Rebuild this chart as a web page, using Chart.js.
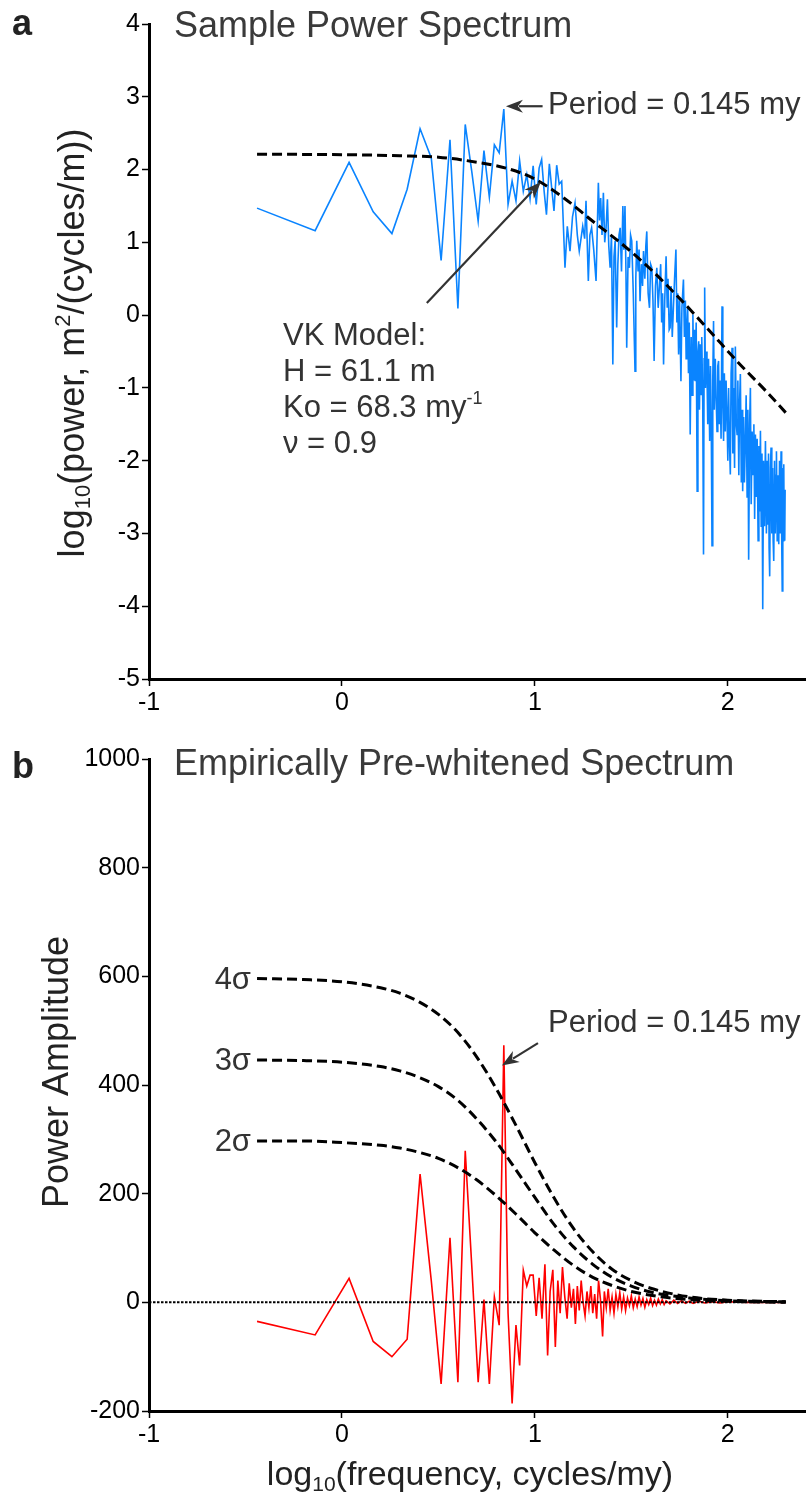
<!DOCTYPE html>
<html>
<head>
<meta charset="utf-8">
<script src="https://cdn.jsdelivr.net/npm/chart.js@4.4.1/dist/chart.umd.min.js"></script>
<style>
  html, body { margin: 0; padding: 0; background: #fff; }
  canvas { display: block; }
</style>
</head>
<body>
<canvas id="topChart" width="806" height="740"></canvas>
<canvas id="bottomChart" width="806" height="758"></canvas>
<script>
// ---- panel a: sample power spectrum (log10 frequency vs log10 power)
const specX = [
  -0.44, -0.139, 0.037, 0.162, 0.259, 0.338, 0.405, 0.463, 0.514, 0.56, 0.601, 0.639, 0.674, 0.706, 0.736, 0.764,
  0.79, 0.815, 0.839, 0.861, 0.882, 0.902, 0.921, 0.94, 0.958, 0.975, 0.991, 1.007, 1.022, 1.035, 1.048, 1.06,
  1.075, 1.087, 1.099, 1.113, 1.126, 1.139, 1.156, 1.168, 1.182, 1.195, 1.208, 1.22, 1.23, 1.248, 1.258, 1.265,
  1.277, 1.285, 1.294, 1.305, 1.317, 1.329, 1.335, 1.341, 1.348, 1.355, 1.362, 1.369, 1.376, 1.383, 1.39, 1.397,
  1.404, 1.41, 1.416, 1.424, 1.43, 1.436, 1.442, 1.449, 1.456, 1.461, 1.467, 1.472, 1.476, 1.483, 1.49, 1.496,
  1.502, 1.51, 1.519, 1.523, 1.528, 1.535, 1.54, 1.545, 1.552, 1.558, 1.563, 1.57, 1.575, 1.58, 1.587, 1.594,
  1.6, 1.606, 1.612, 1.618, 1.625, 1.632, 1.639, 1.646, 1.652, 1.657, 1.662, 1.667, 1.673, 1.68, 1.686, 1.69,
  1.696, 1.701, 1.706, 1.712, 1.718, 1.724, 1.731, 1.736, 1.74, 1.745, 1.75, 1.757, 1.762, 1.77, 1.775, 1.78,
  1.784, 1.788, 1.792, 1.796, 1.8, 1.805, 1.81, 1.815, 1.819, 1.823, 1.827, 1.831, 1.836, 1.841, 1.845, 1.849,
  1.853, 1.857, 1.861, 1.865, 1.87, 1.874, 1.877, 1.88, 1.884, 1.888, 1.892, 1.896, 1.9, 1.906, 1.91, 1.914,
  1.918, 1.922, 1.926, 1.93, 1.935, 1.94, 1.944, 1.948, 1.952, 1.956, 1.96, 1.965, 1.97, 1.974, 1.978, 1.982,
  1.987, 1.991, 1.996, 2.0, 2.004, 2.008, 2.013, 2.017, 2.022, 2.026, 2.03, 2.035, 2.039, 2.044, 2.048, 2.052,
  2.057, 2.061, 2.065, 2.07, 2.074, 2.077, 2.082, 2.086, 2.091, 2.095, 2.1, 2.104, 2.108, 2.113, 2.117, 2.121,
  2.126, 2.131, 2.135, 2.139, 2.143, 2.148, 2.152, 2.157, 2.161, 2.165, 2.169, 2.173, 2.177, 2.181, 2.185, 2.19,
  2.195, 2.2, 2.204, 2.207, 2.211, 2.214, 2.217, 2.221, 2.224, 2.228, 2.232, 2.235, 2.238, 2.242, 2.246, 2.25,
  2.252, 2.256, 2.26, 2.264, 2.268, 2.272, 2.276, 2.279, 2.282, 2.285, 2.288, 2.29, 2.292, 2.295, 2.297
];
const specPower = [
  1.47, 1.16, 2.10, 1.42, 1.12, 1.73, 2.56, 2.16, 0.75, 2.41, 0.09, 2.62, 1.95, 1.29, 2.26, 1.62,
  2.34, 2.23, 2.83, 1.52, 1.84, 1.57, 2.12, 1.70, 1.93, 1.60, 2.05, 1.52, 2.02, 2.14, 1.70, 1.38,
  2.08, 1.75, 1.43, 2.06, 1.80, 1.84, 0.65, 1.22, 0.88, 1.35, 1.54, 1.10, 0.88, 1.22, 1.05, 1.57,
  0.47, 1.10, 1.20, 0.90, 0.47, 1.82, 1.30, 1.61, 1.10, 1.68, 1.00, 1.20, 1.59, 0.95, 0.65, 1.10,
  -0.68, 0.80, 1.02, -0.17, 0.70, 1.10, 1.20, 0.60, 1.50, 0.90, 1.50, 0.60, -0.45, 0.80, 0.65, 1.10,
  1.02, 0.30, -0.77, 0.50, 1.02, 0.60, 0.90, 0.19, 0.70, 0.40, 0.88, 0.50, 0.95, 1.15, 0.30, 0.10,
  0.70, 0.65, 0.20, -0.63, 0.40, 0.65, 0.10, 0.42, 0.70, -0.10, 0.30, -0.68, 0.20, 0.81, 0.10, 0.50,
  -0.20, -0.17, 0.40, -0.30, 0.10, 0.50, 0.90, -0.10, 0.30, -0.54, 0.20, -0.91, 0.10, 0.49, -0.30, 0.20,
  -0.60, -0.17, 0.10, -0.80, -0.10, -1.64, -0.30, -1.10, 0.01, -0.90, -0.20, -0.91, -0.10, -2.42, -0.50, -0.36,
  -1.30, -0.40, -1.09, -0.30, -1.20, -3.29, -0.60, 0.38, -1.00, -0.50, -0.81, -1.50, -0.60, -1.73, -0.70, -1.40,
  -3.17, -0.90, -0.08, -1.30, -0.60, -1.18, -1.60, -0.70, -0.63, -1.50, -0.90, -1.70, 0.12, -1.20, -1.73, -0.80,
  -1.60, -0.90, -1.41, -2.00, -1.00, -1.70, -2.19, -0.80, -0.45, -1.90, -1.00, -2.10, -0.43, -1.50, -1.64, -0.90,
  -2.20, -1.20, -0.81, -2.30, -1.30, -2.42, -1.40, -2.30, -1.73, -1.10, -2.50, -1.30, -3.36, -1.50, -1.00, -2.60,
  -1.60, -2.19, -1.50, -2.80, -1.64, -2.50, -1.70, -3.10, -1.80, -2.70, -1.59, -2.90, -1.90, -4.04, -2.00, -2.90,
  -1.73, -3.00, -2.00, -2.88, -1.90, -3.20, -3.59, -2.10, -1.82, -3.00, -2.10, -3.10, -3.38, -2.00, -3.00, -2.20,
  -1.87, -3.10, -2.20, -3.15, -2.00, -3.00, -1.87, -3.00, -3.79, -2.10, -3.10, -2.05, -3.00, -3.10, -2.40
];
// von Karman model fit
const vkX = [-0.44, 0, 0.3, 0.5, 0.7, 0.85, 1.0, 1.15, 1.3, 1.45, 1.6, 1.75, 1.9, 2.05, 2.2, 2.3];
const vkPower = [2.21, 2.205, 2.19, 2.17, 2.10, 2.02, 1.87, 1.61, 1.29, 0.98, 0.63, 0.23, -0.2, -0.64, -1.05, -1.34];

// ---- panel b: empirically pre-whitened spectrum
const whiteX = [
  -0.44, -0.139, 0.037, 0.162, 0.259, 0.338, 0.405, 0.463, 0.514, 0.56, 0.601, 0.639, 0.674, 0.706, 0.736, 0.764,
  0.79, 0.815, 0.839, 0.861, 0.882, 0.902, 0.921, 0.94, 0.958, 0.975, 0.991, 1.007, 1.022, 1.037, 1.052, 1.066,
  1.079, 1.093, 1.106, 1.119, 1.131, 1.143, 1.155, 1.167, 1.178, 1.189, 1.2, 1.21, 1.22, 1.23, 1.24, 1.25,
  1.26, 1.27, 1.28, 1.29, 1.3, 1.31, 1.32, 1.33, 1.34, 1.351, 1.36, 1.37, 1.38, 1.39, 1.4, 1.41,
  1.42, 1.43, 1.44, 1.45, 1.46, 1.47, 1.48, 1.49, 1.5, 1.51, 1.52, 1.53, 1.54, 1.55, 1.56, 1.57,
  1.58, 1.59, 1.6, 1.61, 1.62, 1.63, 1.64, 1.65, 1.66, 1.67, 1.68, 1.7, 1.72, 1.74, 1.76, 1.78,
  1.8, 1.82, 1.85, 1.88, 1.92, 1.96, 2.0, 2.1, 2.2, 2.3
];
const whiteAmp = [
  -35, -60, 44, -72, -100, -68, 236, 40, -150, 119, -147, 279, 60, -147, 5, -150,
  10, -42, 473, -20, -186, -42, -116, 59, 30, 50, 50, -25, 45, -30, 70, -98,
  20, 60, -82, 40, -20, 65, 10, -30, 35, -10, 25, -40, 30, -15, 40, 0,
  -25, 20, -10, 30, -20, 15, -30, 40, 5, -63, 20, -10, 25, -15, 10, -20,
  15, -8, 18, -12, 10, -15, 8, -6, 12, -10, 6, -8, 10, -5, 7, -9,
  5, -4, 8, -6, 4, -5, 6, -3, 5, -4, 3, -3, 4, -2, 3, -2,
  2, -2, 2, -1, 1, -1, 1, 0, 0, 0
];
// confidence levels
const sigmaX = [-0.44, -0.2, 0, 0.2, 0.3, 0.4, 0.5, 0.6, 0.7, 0.8, 0.9, 1.0, 1.1, 1.2, 1.3, 1.4, 1.5, 1.6, 1.8, 2.0, 2.3];
const sigma4 = [596, 594, 590, 579, 569, 553, 530, 497, 451, 393, 327, 257, 192, 136, 93, 61, 40, 26, 10, 4, 1];
const sigma3 = [446, 445, 442, 434, 426, 414, 397, 372, 337, 295, 245, 193, 143, 102, 70, 46, 30, 19, 8, 3, 1];
const sigma2 = [297, 297, 294, 289, 284, 276, 265, 248, 225, 196, 163, 128, 96, 68, 46, 31, 20, 13, 5, 2, 0];
const zeroX = [-1, 2.3];
const zeroAmp = [0, 0];

const xTicks = [-1, 0, 1, 2];
const topTicks = [-5, -4, -3, -2, -1, 0, 1, 2, 3, 4];
const bottomTicks = [-200, 0, 200, 400, 600, 800, 1000];

const FONT = "'Liberation Sans', Arial, Helvetica, sans-serif";
const toPts = (xs, ys) => xs.map((x, i) => ({ x: x, y: ys[i] }));

function lineSet(xs, ys, color, width, dash, order, smooth) {
    return {
        data: toPts(xs, ys),
        borderColor: color,
        borderWidth: width,
        borderDash: dash || [],
        pointRadius: 0,
        fill: false,
        order: order,
        tension: smooth ? 0.4 : 0,
        cubicInterpolationMode: smooth ? 'monotone' : 'default'
    };
}

// draws text made of pieces (normal / sub / superscript)
function drawRich(ctx, parts, x, y, align) {
    let total = 0;
    parts.forEach(p => {
        ctx.font = (p.weight || '') + ' ' + p.size + 'px ' + FONT;
        p.w = ctx.measureText(p.t).width;
        total += p.w;
    });
    let cx = align === 'center' ? x - total / 2 : (align === 'right' ? x - total : x);
    ctx.textAlign = 'left';
    ctx.textBaseline = 'alphabetic';
    parts.forEach(p => {
        ctx.font = (p.weight || '') + ' ' + p.size + 'px ' + FONT;
        ctx.fillText(p.t, cx, y + (p.dy || 0));
        cx += p.w;
    });
}

function arrow(ctx, x1, y1, x2, y2) {
    const ang = Math.atan2(y2 - y1, x2 - x1);
    const len = 17, half = 6.5;
    const bx = x2 - len * Math.cos(ang), by = y2 - len * Math.sin(ang);
    ctx.strokeStyle = '#333';
    ctx.fillStyle = '#333';
    ctx.lineWidth = 2.2;
    ctx.beginPath();
    ctx.moveTo(x1, y1);
    ctx.lineTo(bx + 4 * Math.cos(ang), by + 4 * Math.sin(ang));
    ctx.stroke();
    ctx.beginPath();
    ctx.moveTo(x2, y2);
    ctx.lineTo(bx - half * Math.sin(ang), by + half * Math.cos(ang));
    ctx.lineTo(bx + 5 * Math.cos(ang), by + 5 * Math.sin(ang));
    ctx.lineTo(bx + half * Math.sin(ang), by - half * Math.cos(ang));
    ctx.closePath();
    ctx.fill();
}

function axisOpts(extra) {
    return Object.assign({
        type: 'linear',
        grid: { display: true, drawOnChartArea: false, drawTicks: true, tickLength: 7, tickColor: '#000', tickWidth: 1.5 },
        border: { display: true, color: '#000', width: 3 },
        ticks: { color: '#000', font: { family: FONT, size: 25 }, padding: 2, callback: v => String(v) }
    }, extra);
}

function makeChart(id, datasets, yMin, yMax, yTicks, xHeight, topPad, annotate) {
    return new Chart(document.getElementById(id), {
        type: 'line',
        data: { datasets: datasets },
        options: {
            responsive: false,
            animation: false,
            devicePixelRatio: 1,
            layout: { padding: { left: 0, right: 1, top: topPad, bottom: 0 } },
            plugins: { legend: { display: false }, tooltip: { enabled: false } },
            scales: {
                x: axisOpts({
                    min: -1, max: 2.4,
                    afterBuildTicks: s => { s.ticks = xTicks.map(v => ({ value: v })); },
                    afterFit: s => { s.height = xHeight; }
                }),
                y: axisOpts({
                    min: yMin, max: yMax,
                    afterBuildTicks: s => { s.ticks = yTicks.map(v => ({ value: v })); },
                    afterFit: s => { s.width = 149; }
                })
            }
        },
        plugins: [{ id: 'notes', afterDraw: annotate }]
    });
}

makeChart('topChart', [
    lineSet(vkX, vkPower, '#000', 3, [10, 5], 1, true),
    lineSet(specX, specPower, '#0a84ff', 1.6, null, 2, false)
], -5, 4, topTicks, 61, 24, chart => {
    const ctx = chart.ctx, sx = chart.scales.x, sy = chart.scales.y;
    const px = v => sx.getPixelForValue(v), py = v => sy.getPixelForValue(v);
    ctx.save();
    ctx.fillStyle = '#222';
    drawRich(ctx, [{ t: 'a', size: 36, weight: 'bold' }], 12, 35, 'left');
    ctx.fillStyle = '#3a3a3a';
    drawRich(ctx, [{ t: 'Sample Power Spectrum', size: 36 }], 174, 37, 'left');
    // y axis title
    ctx.save();
    ctx.translate(84, 343);
    ctx.rotate(-Math.PI / 2);
    ctx.fillStyle = '#222';
    drawRich(ctx, [
        { t: 'log', size: 36 }, { t: '10', size: 22, dy: 6 },
        { t: '(power, m', size: 36 }, { t: '2', size: 22, dy: -14 },
        { t: '/(cycles/m))', size: 36 }
    ], 0, 0, 'center');
    ctx.restore();
    // annotations
    arrow(ctx, px(1.04), py(2.87), px(0.85), py(2.87));
    ctx.fillStyle = '#333';
    drawRich(ctx, [{ t: 'Period = 0.145 my', size: 31 }], 548, 114, 'left');
    arrow(ctx, px(0.44), py(0.165), px(1.031), py(1.83));
    ctx.fillStyle = '#333';
    drawRich(ctx, [{ t: 'VK Model:', size: 31 }], 283, 345, 'left');
    drawRich(ctx, [{ t: 'H = 61.1 m', size: 31 }], 283, 381, 'left');
    drawRich(ctx, [{ t: 'Ko = 68.3 my', size: 31 }, { t: '-1', size: 18, dy: -13 }], 283, 417, 'left');
    drawRich(ctx, [{ t: '\u03bd = 0.9', size: 31 }], 283, 453, 'left');
    ctx.restore();
});

makeChart('bottomChart', [
    lineSet(zeroX, zeroAmp, '#000', 2, [2.5, 1.5], 1, false),
    lineSet(sigmaX, sigma4, '#000', 3, [10, 5], 1, true),
    lineSet(sigmaX, sigma3, '#000', 3, [10, 5], 1, true),
    lineSet(sigmaX, sigma2, '#000', 3, [10, 5], 1, true),
    lineSet(whiteX, whiteAmp, '#ff0000', 1.6, null, 2, false)
], -200, 1000, bottomTicks, 87, 19, chart => {
    const ctx = chart.ctx, sx = chart.scales.x, sy = chart.scales.y;
    const px = v => sx.getPixelForValue(v), py = v => sy.getPixelForValue(v);
    ctx.save();
    ctx.fillStyle = '#222';
    drawRich(ctx, [{ t: 'b', size: 36, weight: 'bold' }], 12, 38, 'left');
    ctx.fillStyle = '#3a3a3a';
    drawRich(ctx, [{ t: 'Empirically Pre-whitened Spectrum', size: 36 }], 174, 35, 'left');
    // y axis title
    ctx.save();
    ctx.translate(68, 332);
    ctx.rotate(-Math.PI / 2);
    ctx.fillStyle = '#222';
    drawRich(ctx, [{ t: 'Power Amplitude', size: 36 }], 0, 0, 'center');
    ctx.restore();
    // x axis title
    ctx.fillStyle = '#222';
    drawRich(ctx, [
        { t: 'log', size: 34 }, { t: '10', size: 21, dy: 6 },
        { t: '(frequency, cycles/my)', size: 34 }
    ], 470, 745, 'center');
    // sigma labels
    ctx.fillStyle = '#333';
    [[sigma4[0], '4\u03c3'], [sigma3[0], '3\u03c3'], [sigma2[0], '2\u03c3']].forEach(s => {
        drawRich(ctx, [{ t: s[1], size: 31 }], 251, py(s[0]) + 10, 'right');
    });
    arrow(ctx, px(1.016), py(477), px(0.829), py(436));
    ctx.fillStyle = '#333';
    drawRich(ctx, [{ t: 'Period = 0.145 my', size: 31 }], 548, 292, 'left');
    ctx.restore();
});
</script>
</body>
</html>
